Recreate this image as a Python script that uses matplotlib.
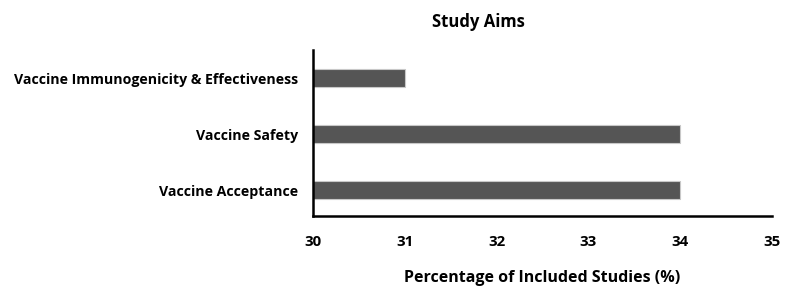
import numpy as np
import matplotlib.pyplot as plt

plt.rcParams['font.family'] = ['Open Sans', 'DejaVu Sans']

# data
aims = ['Vaccine Acceptance', 'Vaccine Safety', 'Vaccine Immunogenicity & Effectiveness']
percent = [34, 34, 31]
xticks = [30, 31, 32, 33, 34, 35]

fig = plt.figure(figsize=(7.86, 2.94), dpi=100)
ax = fig.add_axes([313/786, 1-216/294, (772-313)/786, (216-50)/294])

y = np.arange(len(aims))
ax.barh(y, percent, height=0.32, color='#555555', edgecolor='#c8c8c8', linewidth=0.8)

ax.set_xlim(30, 35)
ax.set_ylim(-0.46, 2.5)
ax.set_xticks(xticks)
ax.set_yticks(y)
ax.set_yticklabels(aims, fontsize=10.2, fontweight='bold')
ax.set_xticklabels([str(t) for t in xticks], fontsize=10.8, fontweight='bold')
ax.tick_params(length=0, pad=14, axis='x')
ax.tick_params(length=0, pad=11, axis='y')

ax.spines['top'].set_visible(False)
ax.spines['right'].set_visible(False)
ax.spines['left'].set_linewidth(1.8)
ax.spines['bottom'].set_linewidth(1.8)

ax.set_xlabel('Percentage of Included Studies (%)', fontsize=11.5, fontweight='bold', labelpad=15)
fig.text(478/786, 1-22/294, 'Study Aims', fontsize=12, fontweight='bold', ha='center', va='center')

plt.savefig('out.png', dpi=100)
